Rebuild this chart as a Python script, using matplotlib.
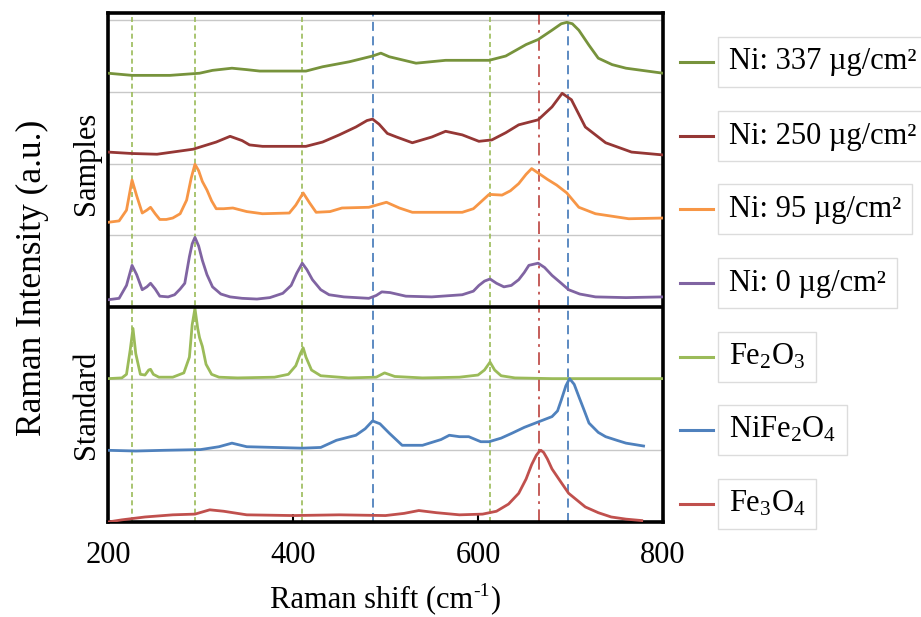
import matplotlib
matplotlib.use("Agg")
import matplotlib.pyplot as plt
from matplotlib.lines import Line2D

plt.rcParams["font.family"] = ["Liberation Serif", "DejaVu Serif"]
plt.rcParams["mathtext.fontset"] = "custom"
plt.rcParams["mathtext.rm"] = "Liberation Serif"
plt.rcParams["mathtext.it"] = "Liberation Serif:italic"

# --- datos (desplazamiento vertical ya incluido) ---
fe3o4_x = [200, 215, 240, 270, 294, 310, 325, 350, 400, 450, 500, 520, 536, 555, 580, 605,
           620, 633, 644, 652, 658, 663, 666, 668, 671, 675, 680, 690, 698, 716, 730, 744,
           760, 777]
fe3o4_y = [0.00, 0.03, 0.07, 0.10, 0.11, 0.17, 0.15, 0.10, 0.09, 0.10, 0.09, 0.12, 0.16, 0.13,
           0.10, 0.11, 0.15, 0.25, 0.40, 0.60, 0.80, 0.93, 0.98, 1.00, 0.97, 0.88, 0.74, 0.55,
           0.40, 0.21, 0.13, 0.07, 0.04, 0.02]

nife2o4_x = [200, 230, 260, 300, 320, 334, 350, 380, 410, 430, 447, 468, 478, 486, 494, 504,
             518, 540, 560, 569, 580, 590, 603, 612, 625, 637, 650, 662, 680, 686, 690, 695,
             699, 704, 709, 715, 720, 730, 738, 750, 760, 779]
nife2o4_y = [1.00, 0.99, 1.00, 1.01, 1.05, 1.10, 1.05, 1.04, 1.03, 1.04, 1.14, 1.21, 1.30,
             1.41, 1.37, 1.24, 1.07, 1.07, 1.15, 1.21, 1.19, 1.19, 1.12, 1.12, 1.17, 1.24,
             1.32, 1.38, 1.47, 1.55, 1.70, 1.90, 2.00, 1.92, 1.75, 1.55, 1.38, 1.25, 1.19,
             1.14, 1.10, 1.06]

fe2o3_x = [200, 215, 220, 224, 227, 230, 235, 240, 244, 246, 249, 255, 270, 282, 288, 291,
           294, 297, 299, 302, 306, 312, 320, 340, 380, 395, 403, 408, 411, 414, 420, 430,
           460, 490, 499, 510, 540, 580, 600, 607, 613, 618, 625, 640, 680, 800]
fe2o3_y = [2.00, 2.01, 2.06, 2.40, 2.70, 2.35, 2.06, 2.05, 2.12, 2.13, 2.06, 2.02, 2.02,
           2.08, 2.30, 2.75, 2.98, 2.70, 2.57, 2.45, 2.20, 2.06, 2.02, 2.01, 2.02, 2.06,
           2.18, 2.35, 2.43, 2.30, 2.12, 2.04, 2.01, 2.02, 2.08, 2.03, 2.01, 2.02, 2.05,
           2.12, 2.23, 2.12, 2.04, 2.01, 2.00, 2.00]

ni0_x = [200, 212, 220, 226, 231, 237, 242, 246, 251, 256, 265, 272, 278, 283, 288, 291, 294,
         298, 302, 307, 313, 322, 332, 345, 361, 375, 389, 398, 404, 410, 415, 421, 430, 439,
         455, 482, 490, 496, 505, 522, 550, 583, 595, 601, 607, 613, 620, 628, 636, 644, 650,
         655, 665, 672, 680, 690, 698, 710, 727, 760, 800]
ni0_y = [3.10, 3.12, 3.30, 3.58, 3.45, 3.24, 3.28, 3.33, 3.25, 3.15, 3.14, 3.17, 3.25, 3.33,
         3.70, 3.88, 3.97, 3.85, 3.65, 3.45, 3.28, 3.18, 3.14, 3.12, 3.11, 3.13, 3.19, 3.30,
         3.47, 3.61, 3.52, 3.38, 3.24, 3.17, 3.14, 3.12, 3.16, 3.21, 3.20, 3.15, 3.14, 3.17,
         3.22, 3.30, 3.36, 3.39, 3.33, 3.28, 3.30, 3.38, 3.48, 3.58, 3.61, 3.55, 3.44, 3.33,
         3.24, 3.18, 3.14, 3.13, 3.14]

ni95_x = [200, 212, 220, 226, 231, 237, 242, 246, 251, 256, 263, 270, 278, 285, 290, 294, 298,
          302, 307, 312, 317, 325, 335, 350, 367, 396, 403, 411, 418, 425, 440, 453, 482, 501,
          515, 529, 583, 595, 601, 612, 626, 635, 644, 652, 658, 666, 675, 685, 696, 709, 727,
          763, 800]
ni95_y = [4.18, 4.20, 4.35, 4.77, 4.55, 4.31, 4.35, 4.39, 4.30, 4.22, 4.22, 4.24, 4.30, 4.49,
          4.80, 4.99, 4.90, 4.75, 4.63, 4.48, 4.37, 4.37, 4.38, 4.33, 4.30, 4.31, 4.42, 4.59,
          4.45, 4.32, 4.33, 4.38, 4.39, 4.46, 4.38, 4.32, 4.32, 4.37, 4.44, 4.57, 4.56, 4.62,
          4.72, 4.85, 4.93, 4.86, 4.78, 4.70, 4.59, 4.39, 4.30, 4.23, 4.24]

ni250_x = [200, 226, 253, 292, 317, 332, 345, 353, 367, 414, 432, 450, 468, 480, 486, 493, 502,
           512, 529, 550, 565, 583, 601, 615, 630, 644, 665, 680, 691, 701, 716, 738, 766, 800]
ni250_y = [5.16, 5.14, 5.13, 5.20, 5.30, 5.38, 5.32, 5.26, 5.24, 5.24, 5.30, 5.40, 5.51, 5.60,
           5.62, 5.55, 5.42, 5.37, 5.29, 5.37, 5.45, 5.40, 5.31, 5.33, 5.43, 5.54, 5.61, 5.79,
           5.98, 5.89, 5.51, 5.29, 5.16, 5.12]

ni337_x = [200, 226, 267, 299, 313, 334, 350, 364, 396, 414, 432, 461, 486, 495, 504, 533, 565,
           612, 630, 652, 665, 680, 690, 696, 702, 709, 720, 730, 745, 760, 800]
ni337_y = [6.26, 6.23, 6.23, 6.26, 6.30, 6.33, 6.31, 6.29, 6.29, 6.29, 6.35, 6.42, 6.50, 6.54,
           6.49, 6.40, 6.44, 6.44, 6.50, 6.66, 6.73, 6.86, 6.95, 6.97, 6.95, 6.86, 6.65, 6.47,
           6.38, 6.33, 6.26]

series_labels = ["Ni: 337 µg/cm²", "Ni: 250 µg/cm²", "Ni: 95 µg/cm²", "Ni: 0 µg/cm²",
                 r"Fe$_\mathregular{2}$O$_\mathregular{3}$",
                 r"NiFe$_\mathregular{2}$O$_\mathregular{4}$",
                 r"Fe$_\mathregular{3}$O$_\mathregular{4}$"]
series_x = [ni337_x, ni250_x, ni95_x, ni0_x, fe2o3_x, nife2o4_x, fe3o4_x]
series_y = [ni337_y, ni250_y, ni95_y, ni0_y, fe2o3_y, nife2o4_y, fe3o4_y]
series_colors = ["#77933C", "#953735", "#F79646", "#8064A2", "#9BBB59", "#4F81BD", "#C0504D"]

# posiciones de los picos de referencia
fe2o3_peaks = [226, 294, 410, 613]
nife2o4_peaks = [486, 697]
fe3o4_peaks = [666]

x_ticks = [200, 400, 600, 800]

W, H = 921, 617
fig = plt.figure(figsize=(W / 100, H / 100), dpi=100)
ax = fig.add_axes([108 / W, 1 - 522 / H, (663 - 108) / W, (522 - 13) / H])

for yg in [1, 2, 4, 5, 6, 7]:
    ax.axhline(yg, color="#c8c8c8", lw=1.0, zorder=1)
ax.axhline(3, color="black", lw=2.6, zorder=5)

for xp in fe2o3_peaks:
    ax.axvline(xp, color="#9BBB59", lw=1.2, ls=(0, (3, 2)), zorder=2)
for xp in nife2o4_peaks:
    ax.axvline(xp, color="#4F81BD", lw=1.3, ls=(0, (5, 3)), zorder=2)
for xp in fe3o4_peaks:
    ax.axvline(xp, color="#C0504D", lw=1.3, ls=(0, (7, 3, 1.5, 3)), zorder=2)

for xs, ys, c in zip(series_x, series_y, series_colors):
    ax.plot(xs, ys, color=c, lw=2.0, zorder=3, solid_joinstyle="round")

ax.set_xlim(200, 800)
ax.set_ylim(0, 7.1)
ax.set_yticks([])
ax.set_xticks(x_ticks)
ax.tick_params(axis="x", direction="in", length=6, width=1.5, labelsize=22, pad=14)
for s in ax.spines.values():
    s.set_linewidth(2.6)

# etiqueta del eje X con superíndice "-1" (guion, no signo menos)
renderer = fig.canvas.get_renderer()
yl = 1 - 600 / H
parts = [("Raman shift (cm", 22, 0.0), ("-1", 14, 9 / H), (")", 22, 0.0)]
widths = []
for txt, fs, dy in parts:
    t = fig.text(0, 0, txt, fontsize=fs)
    widths.append(t.get_window_extent(renderer).width / W)
    t.remove()
xcur = 385 / W - sum(widths) / 2
for (txt, fs, dy), w in zip(parts, widths):
    fig.text(xcur, yl + dy, txt, fontsize=fs, ha="left", va="center")
    xcur += w

fig.text(32 / W, 1 - 278 / H, "Raman Intensity (a.u.)", rotation=90, fontsize=25.5,
         ha="center", va="center")
fig.text(86 / W, 1 - 163 / H, "Samples", rotation=90, fontsize=22, ha="center", va="center")
fig.text(86 / W, 1 - 405 / H, "Standard", rotation=90, fontsize=22, ha="center", va="center")

# leyenda: cada entrada en su propia caja
legend_y = [62, 136, 209, 283, 357, 430, 504]
for lab, c, yc in zip(series_labels, series_colors, legend_y):
    fy = 1 - yc / H
    fig.add_artist(Line2D([680 / W, 713 / W], [fy, fy], color=c, lw=2.2,
                          transform=fig.transFigure))
    fig.text(729 / W, fy, lab, fontsize=22, ha="left", va="center",
             bbox=dict(boxstyle="square,pad=0.35", fc="white", ec="#dcdcdc", lw=1))

fig.savefig("out.png", dpi=100)
